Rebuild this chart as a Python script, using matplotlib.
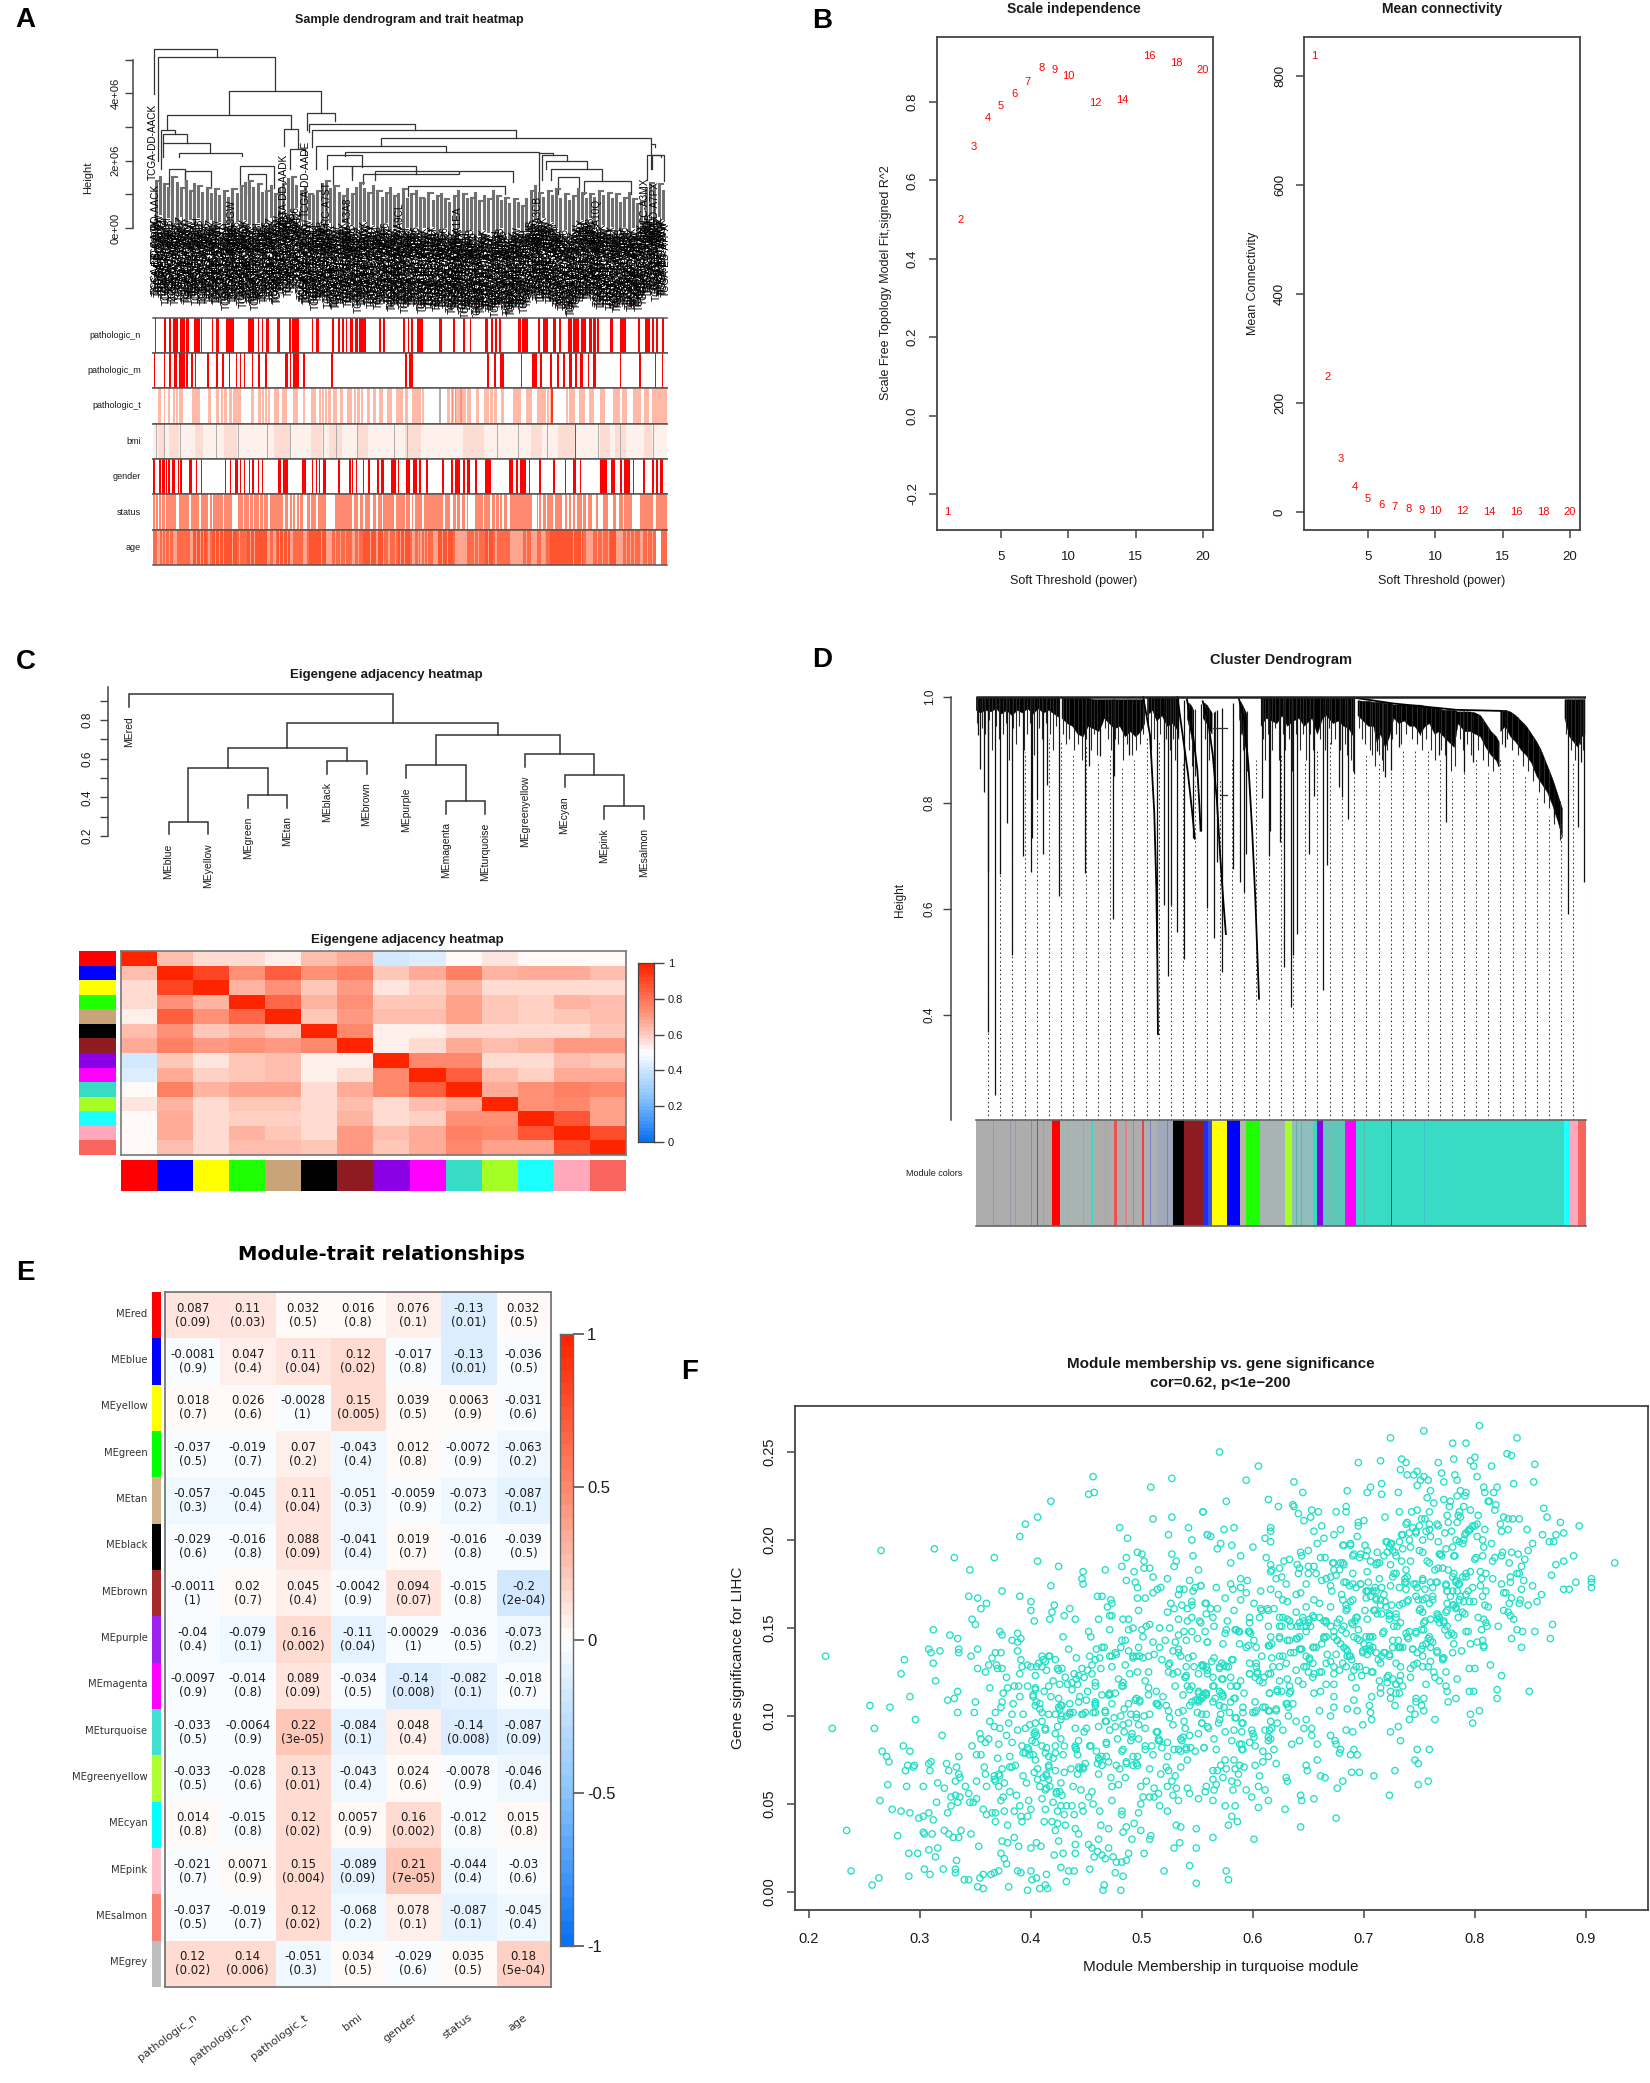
import numpy as np
import matplotlib
matplotlib.use("Agg")
import matplotlib.pyplot as plt
from matplotlib.colors import LinearSegmentedColormap

W, H = 1650, 2083
plt.rcParams["font.family"] = ["Liberation Sans", "DejaVu Sans"]

# panel A: sample tree, x is the position along the sample order, h in millions
A_MERGES = [
    (292, 411, 5.30, 3.98, 5.06), (299, 523, 5.06, 1.99, 4.06), (435, 610, 4.06, 3.36, 3.40),
    (317, 553, 3.36, 2.92, 2.95), (305, 331, 2.92, 1.76, 2.78), (310, 355, 2.78, 2.53, 2.53),
    (310, 399, 2.52, 2.10, 2.24), (340, 460, 2.24, 2.12, 2.14), (540, 565, 2.94, 2.44, 2.35),
    (550, 580, 2.35, 1.76, 2.20), (583, 637, 3.40, 2.90, 3.17), (586, 788, 3.10, 2.84, 2.92),
    (592, 981, 2.90, 2.39, 2.67), (723, 1237, 2.67, 2.42, 2.50), (600, 847, 2.42, 1.76, 2.27),
    (655, 1024, 2.27, 2.15, 2.24), (622, 687, 2.16, 1.76, 1.82), (633, 668, 1.83, 1.30, 1.42),
    (668, 790, 1.83, 1.59, 1.59), (690, 872, 1.59, 1.30, 1.65), (712, 975, 1.68, 1.42, 1.36),
    (775, 960, 1.25, 0.95, 1.00), (1024, 1052, 2.24, 1.08, 2.16), (1030, 1078, 2.16, 1.42, 1.99),
    (1038, 1115, 1.99, 1.76, 1.76), (1047, 1145, 1.76, 1.42, 1.42), (1237, 1246, 2.50, 1.76, 2.39),
    (1230, 1256, 2.16, 1.42, 2.12), (1240, 1263, 2.18, 1.76, 1.40), (320, 350, 1.76, 1.00, 1.30),
    (455, 520, 1.85, 1.10, 1.20), (470, 505, 1.60, 1.00, 1.10), (350, 400, 1.70, 1.10, 1.20),
    (1060, 1100, 1.50, 1.00, 1.10), (1110, 1200, 1.40, 1.00, 1.00),
]
A_LEAF_X = [
    295, 303, 311, 319, 327, 335, 343, 352, 360, 368, 376, 384, 392, 400, 408, 416, 425, 433, 441, 449,
    457, 465, 473, 481, 489, 498, 506, 514, 522, 530, 538, 546, 554, 562, 571, 579, 587, 595, 603, 611,
    619, 627, 635, 644, 652, 660, 668, 676, 684, 692, 700, 708, 717, 725, 733, 741, 749, 757, 765, 773,
    781, 790, 798, 806, 814, 822, 830, 838, 846, 854, 863, 871, 879, 887, 895, 903, 911, 919, 927, 936,
    944, 952, 960, 968, 976, 984, 992, 1000, 1009, 1017, 1025, 1033, 1041, 1049, 1057, 1065, 1073, 1082,
    1090, 1098, 1106, 1114, 1122, 1130, 1138, 1146, 1155, 1163, 1171, 1179, 1187, 1195, 1203, 1211, 1219,
    1228, 1236, 1244, 1252, 1260,
]
A_LEAF_TOP = [
    1.40, 1.50, 1.30, 1.20, 1.50, 1.35, 1.20, 1.40, 1.10, 1.30, 1.25, 1.05, 1.20, 1.00, 1.15, 0.95, 1.10, 0.90, 1.15, 1.00,
    1.25, 1.35, 1.40, 1.20, 1.30, 1.05, 1.10, 1.25, 1.00, 1.15, 1.30, 1.45, 1.50, 1.25, 1.10, 1.20, 1.00, 0.95, 1.10, 1.30,
    1.40, 1.15, 1.25, 1.05, 0.95, 1.15, 1.00, 1.20, 1.35, 1.15, 1.05, 1.25, 1.10, 0.90, 1.05, 1.20, 0.95, 1.00, 1.15, 0.85,
    1.00, 1.10, 0.90, 0.85, 1.05, 0.80, 0.95, 1.00, 0.85, 0.75, 0.95, 1.10, 1.00, 0.85, 0.90, 1.05, 0.80, 0.95, 0.85, 1.10,
    0.95, 0.80, 0.90, 0.70, 0.85, 0.75, 0.65, 0.85, 1.10, 1.25, 1.05, 0.90, 1.10, 0.95, 1.15, 0.85, 1.00, 0.80, 0.95, 1.15,
    1.05, 0.85, 1.00, 0.90, 1.10, 0.95, 1.05, 0.85, 1.00, 0.75, 0.90, 1.05, 0.85, 0.70, 0.80, 1.20, 1.35, 1.25, 1.30, 1.10,
]
A_LEAF_BOT = [
    0.30, 0.45, 0.15, 0.35, 0.05, 0.25, 0.40, 0.10, 0.30, 0.15, 0.35, 0.05, 0.20, 0.30, 0.10, 0.25, 0.00, 0.20, 0.10, 0.25,
    0.05, 0.30, 0.15, 0.00, 0.20, 0.10, 0.25, 0.35, 0.10, 0.40, 0.60, 0.30, 0.50, 0.65, 0.25, 0.10, 0.30, 0.00, 0.15, 0.25,
    0.05, 0.20, -0.05, 0.10, 0.20, 0.00, 0.15, -0.10, 0.10, 0.25, 0.00, 0.15, -0.05, 0.10, 0.20, -0.05, 0.05, 0.15, -0.10, 0.05,
    0.00, 0.10, -0.10, 0.05, -0.05, 0.10, -0.10, -0.05, 0.05, -0.15, -0.05, 0.05, -0.25, -0.10, 0.00, -0.30, -0.15, 0.00, -0.10, -0.20,
    -0.05, 0.05, -0.15, -0.20, -0.05, 0.05, -0.10, 0.00, 0.25, 0.30, 0.20, 0.35, 0.15, 0.25, 0.05, -0.10, 0.00, -0.20, -0.05, 0.15,
    0.30, 0.20, 0.35, 0.10, 0.00, 0.15, -0.05, 0.10, -0.15, 0.00, 0.10, -0.05, 0.05, -0.10, 0.15, 0.30, 0.45, 0.25, 0.40, 0.30,
]
A_SAMPLE_IDS = ["TCGA-DD-AACK", "TCGA-BC-A10W", "TCGA-ED-A7PX", "TCGA-G3-A3CH", "TCGA-CC-A3MB", "TCGA-2Y-A9H6", "TCGA-ZP-A9CZ"]
A_TALL_LABELS = [
    (290, 3.70, "TCGA-DD-AACK"), (296, 1.30, "TCGA-DD-AACK"), (538, 2.20, "TCGA-DD-AADK"), (580, 2.60, "TCGA-DD-AADE"),
    (1225, 1.50, "TCGA-CC-A3MX"), (1245, 1.40, "TCGA-ED-A7PX"), (1023, 0.95, "TCGA-G3-A3CB"), (1135, 0.85, "TCGA-BC-A10Q"),
    (760, 0.75, "TCGA-ZP-A9CL"), (870, 0.65, "TCGA-DD-A1EA"), (660, 0.90, "TCGA-DD-A3A8"), (620, 1.40, "TCGA-RC-A7ST"),
    (440, 0.85, "TCGA-2Y-A9GW"),
]

A_TRAITS = ["pathologic_n", "pathologic_m", "pathologic_t", "bmi", "gender", "status", "age"]
A_N_RUNS = [
    (293, 296), (310, 315), (320, 325), (329, 338), (342, 350), (353, 358), (368, 380), (382, 384), (402, 405), (409, 416),
    (428, 432), (433, 445), (470, 482), (489, 492), (497, 500), (505, 510), (526, 532), (548, 553), (555, 568), (592, 595),
    (600, 606), (630, 634), (642, 646), (650, 654), (658, 660), (664, 670), (675, 680), (682, 695), (720, 723), (727, 731),
    (765, 770), (775, 778), (780, 785), (793, 803), (835, 840), (860, 864), (880, 884), (893, 896), (922, 927), (933, 937),
    (940, 944), (948, 952), (985, 990), (992, 1004), (1023, 1027), (1033, 1041), (1052, 1056), (1063, 1066), (1080, 1087),
    (1090, 1100), (1104, 1113), (1120, 1125), (1127, 1132), (1135, 1139), (1160, 1165), (1178, 1190), (1213, 1216),
    (1226, 1236), (1240, 1243), (1247, 1251), (1258, 1262),
]
A_M_RUNS = [
    (292, 294), (310, 313), (320, 325), (330, 336), (340, 350), (352, 356), (362, 366), (370, 372), (393, 396), (410, 413),
    (422, 425), (434, 437), (447, 450), (455, 458), (463, 466), (478, 481), (490, 494), (503, 507), (542, 546), (550, 552),
    (556, 567), (575, 579), (629, 632), (770, 773), (778, 785), (925, 930), (938, 942), (951, 957), (990, 993), (1011, 1021),
    (1027, 1030), (1045, 1050), (1058, 1062), (1070, 1074), (1082, 1087), (1093, 1097), (1103, 1108), (1118, 1120),
    (1128, 1132), (1178, 1180), (1214, 1218), (1245, 1248), (1258, 1260),
]
A_T_RUNS = [
    (300, 305), (310, 312), (318, 322), (328, 348), (365, 380), (395, 400), (410, 415), (420, 430), (435, 458), (476, 482),
    (490, 512), (520, 530), (535, 545), (556, 566), (575, 580), (590, 600), (605, 628), (632, 640), (645, 652), (660, 668),
    (672, 690), (697, 702), (708, 714), (720, 728), (735, 745), (752, 765), (770, 776), (782, 806), (850, 885), (888, 895),
    (905, 910), (920, 945), (952, 958), (975, 990), (1000, 1012), (1020, 1048), (1075, 1080), (1082, 1092), (1100, 1112),
    (1120, 1130), (1140, 1150), (1165, 1178), (1183, 1192), (1203, 1218), (1224, 1234), (1240, 1268),
]
A_T_GAPS = [
    (332, 333), (338, 339), (343, 344), (424, 425), (441, 442), (447, 448), (453, 454), (496, 497), (502, 503), (507, 508),
    (610, 611), (616, 617), (622, 623), (677, 678), (684, 685), (788, 789), (794, 795), (800, 801), (856, 857), (863, 864),
    (872, 873), (930, 931), (937, 938), (1026, 1027), (1032, 1033), (1038, 1039), (1044, 1045), (1250, 1251), (1256, 1257),
    (1262, 1263),
]
A_T_DARK = [(858, 860), (865, 867), (875, 877)]
A_T_RED = [(1048, 1051)]
A_T_GREY = [(835, 838)]
A_BMI_BANDS = [
    (300, 310), (320, 340), (370, 385), (425, 450), (520, 550), (590, 612), (625, 650), (680, 700), (770, 800), (880, 920),
    (1010, 1030), (1060, 1092), (1140, 1160), (1170, 1190), (1225, 1240),
]
A_BMI_GREY = [
    (295, 297), (311, 313), (341, 343), (409, 411), (451, 453), (506, 508), (551, 553), (614, 616), (639, 641), (679, 681),
    (749, 751), (774, 776), (944, 946), (984, 986), (1039, 1041), (1137, 1139), (1179, 1181), (1242, 1244),
]
A_BMI_DARK = [(1093, 1095)]
A_GENDER_RUNS = [
    (290, 294), (302, 305), (308, 312), (315, 317), (318, 322), (326, 331), (337, 340), (342, 345), (358, 365), (371, 374),
    (381, 384), (427, 429), (437, 439), (446, 451), (456, 458), (463, 465), (472, 474), (479, 483), (489, 492), (498, 500),
    (528, 533), (537, 546), (558, 559), (574, 581), (592, 595), (600, 602), (605, 608), (613, 620), (642, 645), (662, 666),
    (669, 671), (677, 679), (689, 692), (699, 703), (717, 720), (724, 729), (742, 753), (757, 759), (771, 779), (785, 793),
    (796, 799), (809, 813), (840, 844), (857, 861), (864, 874), (880, 883), (888, 893), (902, 906), (921, 934), (967, 975),
    (980, 985), (989, 999), (1006, 1008), (1025, 1028), (1052, 1055), (1073, 1076), (1089, 1094), (1102, 1104), (1140, 1153),
    (1161, 1170), (1179, 1182), (1187, 1197), (1203, 1206), (1223, 1227), (1239, 1244), (1248, 1251), (1255, 1260),
]
A_STATUS_GAPS = [
    (293, 295), (299, 301), (306, 308), (312, 315), (322, 323), (328, 329), (334, 339), (358, 362), (377, 381), (394, 399),
    (403, 404), (409, 410), (417, 418), (423, 426), (432, 433), (441, 451), (455, 456), (462, 464), (472, 475), (480, 483),
    (491, 493), (499, 501), (508, 512), (537, 541), (546, 550), (554, 557), (561, 564), (567, 570), (576, 583), (589, 591),
    (600, 603), (619, 636), (669, 672), (680, 683), (690, 694), (703, 709), (715, 718), (726, 728), (748, 753), (770, 772),
    (779, 782), (785, 788), (792, 793), (801, 806), (842, 845), (856, 860), (866, 869), (874, 877), (883, 887), (890, 902),
    (917, 920), (932, 935), (940, 942), (949, 950), (955, 958), (963, 969), (1011, 1020), (1022, 1025), (1028, 1032),
    (1037, 1040), (1052, 1055), (1068, 1073), (1078, 1082), (1085, 1089), (1093, 1096), (1107, 1109), (1114, 1118),
    (1126, 1132), (1137, 1146), (1156, 1166), (1171, 1176), (1184, 1187), (1202, 1216), (1241, 1247),
]
A_AGE_DARK = [
    (367, 393), (402, 450), (469, 507), (526, 551), (586, 620), (690, 728), (757, 779), (833, 861), (921, 937), (1045, 1108),
    (1159, 1171),
]
A_AGE_LIGHT = [
    (298, 304), (320, 323), (329, 336), (361, 366), (394, 399), (453, 456), (507, 513), (519, 524), (551, 557), (576, 583),
    (620, 630), (668, 674), (715, 719), (750, 753), (782, 788), (798, 801), (822, 833), (864, 887), (940, 944), (969, 994),
    (1010, 1020), (1029, 1035), (1114, 1127), (1171, 1184), (1216, 1222),
    (308, 309), (313, 314), (343, 344), (350, 351), (372, 373), (380, 381), (386, 387), (408, 409), (416, 417), (424, 425),
    (432, 433), (441, 442), (475, 476), (483, 484), (491, 492), (499, 500), (530, 531), (538, 539), (545, 546), (592, 593),
    (600, 601), (610, 611), (636, 638), (645, 647), (655, 657), (680, 682), (695, 696), (703, 704), (712, 713), (728, 730),
    (738, 740), (760, 761), (768, 769), (795, 796), (805, 807), (812, 814), (840, 841), (850, 851), (900, 902), (908, 910),
    (928, 929), (1000, 1002), (1045, 1046), (1060, 1061), (1075, 1076), (1090, 1091), (1105, 1106), (1135, 1137), (1145, 1147),
    (1155, 1157), (1190, 1192), (1198, 1200), (1206, 1208), (1230, 1232), (1240, 1242),
]
A_AGE_WHITE = [(1247, 1257)]
A_AGE_GREY = [(1035, 1038)]

# panel B
POWERS = [1, 2, 3, 4, 5, 6, 7, 8, 9, 10, 12, 14, 16, 18, 20]
SFT_R2 = [-0.247, 0.50, 0.685, 0.76, 0.79, 0.82, 0.85, 0.886, 0.883, 0.867, 0.797, 0.804, 0.918, 0.90, 0.882]
MEAN_K = [836, 248, 98, 46, 24, 13, 9, 5, 3.5, 2, 1, 0.7, 0.5, 0.4, 0.3]

# panel C
ME_NAMES = ["MEred", "MEblue", "MEyellow", "MEgreen", "MEtan", "MEblack", "MEbrown", "MEpurple", "MEmagenta",
            "MEturquoise", "MEgreenyellow", "MEcyan", "MEpink", "MEsalmon"]
ME_COLORS_C = ["#FF0000", "#0000FF", "#FFFF00", "#1EFF00", "#C8A478", "#000000", "#8E1B22", "#8B00E5", "#FF00FF",
               "#38DCC4", "#A5FF24", "#1CFFFF", "#FFA8BC", "#F8655E"]
# R style merge table, leaves are 0-13, inner nodes count on from 14
C_MERGES = [
    (1, 2, 0.275), (3, 4, 0.413), (14, 15, 0.553), (5, 6, 0.59), (16, 17, 0.656), (8, 9, 0.383), (7, 19, 0.565),
    (12, 13, 0.354), (11, 21, 0.518), (10, 22, 0.622), (20, 23, 0.72), (18, 24, 0.784), (0, 25, 0.934),
]
ADJ = [
    [1.00, .62, .57, .57, .53, .62, .67, .40, .42, .50, .54, .50, .50, .50],
    [.62, 1.00, .90, .72, .85, .72, .76, .60, .67, .76, .64, .66, .66, .62],
    [.57, .90, 1.00, .65, .72, .60, .70, .54, .59, .65, .56, .56, .56, .56],
    [.57, .72, .65, 1.00, .83, .65, .72, .60, .60, .68, .61, .59, .64, .62],
    [.53, .85, .72, .83, 1.00, .60, .70, .62, .62, .68, .61, .59, .60, .62],
    [.62, .72, .60, .65, .60, 1.00, .74, .52, .52, .57, .57, .57, .57, .60],
    [.67, .76, .70, .72, .70, .74, 1.00, .52, .57, .67, .63, .64, .71, .71],
    [.40, .60, .54, .60, .62, .52, .52, 1.00, .75, .74, .57, .57, .62, .60],
    [.42, .67, .59, .60, .62, .52, .57, .75, 1.00, .85, .63, .59, .67, .66],
    [.50, .76, .65, .68, .68, .57, .67, .74, .85, 1.00, .67, .73, .76, .75],
    [.54, .64, .56, .61, .61, .57, .63, .57, .63, .67, 1.00, .72, .75, .69],
    [.50, .66, .56, .59, .59, .57, .64, .57, .59, .73, .72, 1.00, .86, .68],
    [.50, .66, .56, .64, .60, .57, .71, .62, .67, .76, .75, .86, 1.00, .88],
    [.50, .62, .56, .62, .62, .60, .71, .60, .66, .75, .69, .68, .88, 1.00],
]

# panel D: x is the position along the gene order, heights as on the axis
D_MASS = [
    [(287, 1.0, .975), (295, 1.0, .970), (305, 1.0, .975), (315, 1.0, .972), (325, 1.0, .978), (335, 1.0, .968), (345, 1.0, .975),
     (355, 1.0, .965), (365, 1.0, .975), (375, 1.0, .970), (385, 1.0, .978), (395, 1.0, .968), (405, 1.0, .978), (415, 1.0, .970),
     (425, 1.0, .975), (435, 1.0, .968), (444, 1.0, .962)],
    [(450, .998, .960), (460, .998, .950), (470, .998, .945), (480, .998, .930), (490, .998, .925), (500, .998, .945), (510, .995, .940),
     (520, .995, .935), (527, .995, .950), (530, .995, .960), (540, .995, .950), (550, .995, .940), (560, .995, .945), (570, .995, .925),
     (580, .995, .935), (590, .995, .925), (600, .995, .935), (607, .995, .950)],
    [(612, 1.0, .965), (622, 1.0, .975), (630, 1.0, .955), (640, 1.0, .965), (650, 1.0, .945), (660, 1.0, .950), (668, 1.0, .940), (672, 1.0, .920)],
    [(688, .990, .960), (695, .985, .930), (700, .975, .900)],
    [(718, .990, .960), (725, .985, .950), (735, .970, .930)],
    [(787, .993, .960), (793, .985, .930), (800, .970, .900)],
    [(828, 1.0, .945), (838, 1.0, .960), (848, 1.0, .955), (858, 1.0, .950), (868, 1.0, .965), (878, 1.0, .945), (890, 1.0, .955),
     (900, 1.0, .960), (910, 1.0, .945), (925, 1.0, .960), (935, 1.0, .930), (945, 1.0, .960), (952, .998, .965), (965, .998, .950),
     (975, .998, .955), (985, .998, .945), (995, .998, .940), (1004, .998, .925)],
    [(1012, .993, .965), (1022, .992, .955), (1032, .992, .945), (1042, .990, .945), (1048, .990, .915), (1055, .990, .930), (1064, .988, .905),
     (1072, .988, .925), (1080, .985, .960), (1090, .985, .950), (1100, .985, .955), (1110, .985, .945), (1120, .985, .945), (1130, .985, .930),
     (1140, .982, .945), (1148, .980, .950), (1158, .980, .930), (1166, .978, .935), (1175, .975, .925), (1185, .975, .915), (1195, .975, .905),
     (1202, .972, .950), (1215, .972, .935), (1225, .972, .935), (1235, .970, .930), (1245, .965, .925), (1255, .950, .905), (1265, .935, .890),
     (1275, .925, .880), (1280, .915, .868)],
    [(1283, .975, .935), (1292, .975, .945), (1302, .972, .925), (1312, .965, .915), (1322, .955, .900), (1332, .945, .890), (1342, .930, .875),
     (1352, .915, .850), (1362, .895, .835), (1372, .870, .820), (1382, .845, .795), (1392, .815, .765), (1400, .790, .735)],
    [(1405, .995, .960), (1414, .995, .925), (1422, .995, .915), (1430, .995, .905), (1437, .995, .925), (1443, .995, .930)],
]
D_TIP_X = [310, 323, 311, 333, 356, 302, 296, 292, 347, 376, 392, 393, 415, 404, 445, 422, 494, 503, 547, 550, 578, 523, 631, 645, 652,
           657, 669, 682, 700, 714, 726, 739, 745, 754, 775, 788, 797, 800, 830, 843, 846, 864, 873, 885, 890, 897, 920, 930, 946, 955,
           977, 983, 994, 1005, 1049, 1064, 1075, 1090, 1130, 1166, 1180, 1214, 1232, 1278, 1292, 1327, 1358, 1385, 1412, 1430, 1436, 1442]
D_TIP_H = [.368, .248, .67, .665, .512, .82, .864, .927, .762, .70, .67, .734, .703, .806, .623, .833, .667, .869, .581, .851, .89, .887, .518, .606, .473,
           .606, .556, .505, .734, .747, .601, .545, .687, .48, .674, .65, .631, .703, .808, .70, .747, .725, .489, .415, .512, .552, .703, .813, .446, .682,
           .83, .81, .77, .855, .898, .849, .862, .905, .927, .89, .763, .858, .876, .869, .905, .894, .847, .772, .59, .754, .876, .651]
D_SHORT_TIPS = [
    (290, .95), (298, .94), (304, .93), (312, .955), (318, .90), (326, .945), (331, .92), (338, .93), (344, .95), (350, .88), (358, .94), (364, .91),
    (370, .945), (378, .90), (384, .93), (390, .95), (398, .89), (407, .94), (412, .92), (420, .95), (428, .93), (434, .90), (440, .945), (452, .93),
    (458, .91), (465, .92), (474, .90), (482, .91), (488, .88), (496, .92), (506, .90), (512, .93), (518, .89), (532, .94), (538, .92), (544, .90),
    (552, .92), (558, .91), (566, .88), (574, .91), (584, .89), (592, .90), (598, .91), (604, .93), (615, .94), (620, .90), (626, .92), (636, .93),
    (644, .90), (648, .92), (655, .90), (662, .92), (666, .88), (692, .90), (697, .87), (703, .85), (722, .92), (730, .88), (742, .84), (790, .93),
    (795, .90), (802, .86), (832, .92), (836, .88), (842, .93), (850, .90), (855, .94), (862, .88), (870, .93), (875, .90), (882, .92), (888, .86),
    (895, .93), (903, .90), (908, .93), (915, .88), (922, .93), (928, .90), (940, .92), (950, .90), (958, .94), (962, .91), (970, .92), (978, .90),
    (988, .91), (992, .89), (1000, .88), (1003, .86), (1015, .94), (1020, .92), (1027, .91), (1035, .90), (1040, .89), (1046, .87), (1052, .89),
    (1058, .88), (1061, .86), (1068, .90), (1078, .92), (1085, .93), (1095, .91), (1105, .93), (1115, .92), (1125, .91), (1135, .90), (1143, .92),
    (1152, .90), (1160, .88), (1170, .90), (1178, .89), (1190, .86), (1198, .87), (1206, .92), (1212, .90), (1220, .91), (1228, .89), (1240, .90),
    (1250, .88), (1260, .87), (1270, .86), (1286, .91), (1296, .92), (1306, .90), (1316, .89), (1326, .87), (1336, .86), (1346, .84), (1356, .82),
    (1366, .80), (1376, .79), (1386, .76), (1396, .73), (1408, .93), (1418, .90), (1426, .88), (1434, .91), (1440, .90),
]
D_CURVES = [
    ([787, 797, 805, 812, 818, 822, 825], [.995, .955, .869, .746, .617, .509, .43]),
    ([718, 728, 737, 745, 751, 757, 762], [.991, .955, .891, .804, .703, .617, .552]),
    ([605, 618, 626, 630, 632, 633], [.999, .927, .782, .638, .494, .363]),
    ([670, 680, 690, 698, 703], [.999, .927, .855, .782, .732]),
    ([688, 700, 708, 712, 714], [.995, .925, .860, .790, .747]),
    ([1005, 1080, 1150, 1200, 1285], [.998, .987, .980, .975, .973]),
]
D_CROSS = [(737, 765, .94), (750, 765, .815)]
D_GUIDE_X = [310, 333, 356, 380, 403, 426, 449, 472, 496, 519, 542, 565, 588, 612, 635, 658, 681, 704, 727, 751, 774, 797, 820, 843, 866, 890, 913,
             936, 959, 982, 1006, 1029, 1052, 1075, 1098, 1121, 1145, 1168, 1191, 1214, 1237, 1260, 1283, 1307, 1330, 1353, 1376, 1399, 1422, 1445]
D_MODULES = [
    (287, 432, "#ADADAD"), (432, 447, "#FF0000"), (447, 505, "#A8B4B2"), (505, 510, "#38DCC4"), (510, 550, "#ADADAD"), (550, 554, "#F05050"),
    (554, 570, "#ADADAD"), (570, 573, "#E88080"), (573, 603, "#ADADAD"), (603, 606, "#F04040"), (606, 630, "#ABB0B0"), (630, 662, "#A0A8BC"),
    (662, 683, "#000000"), (683, 718, "#8E1B22"), (718, 727, "#2030F0"), (727, 736, "#4050E0"), (736, 764, "#FFFF00"), (764, 788, "#0000FF"),
    (788, 800, "#B8B8A0"), (800, 826, "#1EFF00"), (826, 875, "#A8B4B4"), (875, 888, "#A5FF24"), (888, 927, "#90BEBA"), (927, 934, "#38DCC4"),
    (934, 946, "#8B00E5"), (946, 988, "#5CC8BA"), (988, 1009, "#FF00FF"), (1009, 1075, "#38DCC4"), (1075, 1078, "#8B00E5"),
    (1078, 1405, "#38DCC4"), (1405, 1415, "#1CFFFF"), (1415, 1430, "#FFA8BC"), (1430, 1445, "#F8655E"),
]
D_THIN_LINES = [
    (320, "#9A9A9A"), (345, "#A090B0"), (352, "#A090B0"), (362, "#B090B0"), (372, "#A090B8"), (385, "#9090B0"), (392, "#A080A8"), (403, "#6A6A6A"),
    (415, "#80B0A8"), (460, "#80C0B8"), (478, "#C09090"), (490, "#80B8B0"), (532, "#80B8B0"), (585, "#C08080"), (618, "#8080D0"), (640, "#8080E0"),
    (650, "#6090C0"), (895, "#60B0A8"), (905, "#40C8B0"), (915, "#6080D0"), (960, "#80B8B0"), (1024, "#60B8A8"), (1130, "#40B8D0"), (1138, "#40C0C8"),
]

# panel E
E_MODULES = ME_NAMES + ["MEgrey"]
E_COLORS = ["#FF0000", "#0000FF", "#FFFF00", "#00FF00", "#D2B48C", "#000000", "#A52A2A", "#A020F0", "#FF00FF",
            "#40E0D0", "#ADFF2F", "#00FFFF", "#FFC0CB", "#FA8072", "#BEBEBE"]
E_COR = [
    ["0.087", "0.11", "0.032", "0.016", "0.076", "-0.13", "0.032"],
    ["-0.0081", "0.047", "0.11", "0.12", "-0.017", "-0.13", "-0.036"],
    ["0.018", "0.026", "-0.0028", "0.15", "0.039", "0.0063", "-0.031"],
    ["-0.037", "-0.019", "0.07", "-0.043", "0.012", "-0.0072", "-0.063"],
    ["-0.057", "-0.045", "0.11", "-0.051", "-0.0059", "-0.073", "-0.087"],
    ["-0.029", "-0.016", "0.088", "-0.041", "0.019", "-0.016", "-0.039"],
    ["-0.0011", "0.02", "0.045", "-0.0042", "0.094", "-0.015", "-0.2"],
    ["-0.04", "-0.079", "0.16", "-0.11", "-0.00029", "-0.036", "-0.073"],
    ["-0.0097", "-0.014", "0.089", "-0.034", "-0.14", "-0.082", "-0.018"],
    ["-0.033", "-0.0064", "0.22", "-0.084", "0.048", "-0.14", "-0.087"],
    ["-0.033", "-0.028", "0.13", "-0.043", "0.024", "-0.0078", "-0.046"],
    ["0.014", "-0.015", "0.12", "0.0057", "0.16", "-0.012", "0.015"],
    ["-0.021", "0.0071", "0.15", "-0.089", "0.21", "-0.044", "-0.03"],
    ["-0.037", "-0.019", "0.12", "-0.068", "0.078", "-0.087", "-0.045"],
    ["0.12", "0.14", "-0.051", "0.034", "-0.029", "0.035", "0.18"],
]
E_P = [
    ["0.09", "0.03", "0.5", "0.8", "0.1", "0.01", "0.5"],
    ["0.9", "0.4", "0.04", "0.02", "0.8", "0.01", "0.5"],
    ["0.7", "0.6", "1", "0.005", "0.5", "0.9", "0.6"],
    ["0.5", "0.7", "0.2", "0.4", "0.8", "0.9", "0.2"],
    ["0.3", "0.4", "0.04", "0.3", "0.9", "0.2", "0.1"],
    ["0.6", "0.8", "0.09", "0.4", "0.7", "0.8", "0.5"],
    ["1", "0.7", "0.4", "0.9", "0.07", "0.8", "2e-04"],
    ["0.4", "0.1", "0.002", "0.04", "1", "0.5", "0.2"],
    ["0.9", "0.8", "0.09", "0.5", "0.008", "0.1", "0.7"],
    ["0.5", "0.9", "3e-05", "0.1", "0.4", "0.008", "0.09"],
    ["0.5", "0.6", "0.01", "0.4", "0.6", "0.9", "0.4"],
    ["0.8", "0.8", "0.02", "0.9", "0.002", "0.8", "0.8"],
    ["0.7", "0.9", "0.004", "0.09", "7e-05", "0.4", "0.6"],
    ["0.5", "0.7", "0.02", "0.2", "0.1", "0.1", "0.4"],
    ["0.02", "0.006", "0.3", "0.5", "0.6", "0.5", "5e-04"],
]

# panel F: (module membership, gene significance), both times 1000
F_POINTS = [
    (215, 134), (221, 93), (265, 194), (313, 195), (331, 190), (367, 190), (345, 183), (406, 188), (456, 236), (457, 227), (452, 226), (418, 222),
    (406, 213), (395, 209), (390, 202), (508, 230), (527, 235), (510, 212), (527, 213), (480, 207), (487, 201), (524, 203), (542, 207), (555, 216),
    (559, 203), (545, 200), (546, 191), (496, 193), (500, 192), (486, 190), (502, 188), (482, 185), (502, 184), (507, 184), (493, 182), (510, 179),
    (527, 192), (531, 188), (529, 185), (523, 178), (551, 183), (425, 185), (467, 183), (447, 182), (446, 178), (447, 175), (418, 174), (374, 171),
    (390, 168), (344, 168), (352, 167), (360, 164), (355, 161), (400, 165), (400, 160), (403, 154), (421, 163), (419, 159), (417, 155), (430, 157),
    (435, 161), (440, 155), (347, 155), (350, 152), (312, 149), (327, 146), (334, 144), (308, 138), (310, 136), (318, 137), (335, 138), (335, 136),
    (346, 134), (352, 138), (286, 132), (312, 130), (283, 124), (314, 120), (291, 111), (255, 106), (273, 105), (259, 93), (296, 98), (325, 109),
    (331, 110), (334, 114), (334, 102), (350, 108), (349, 102), (320, 89), (266, 80), (270, 77), (272, 74), (285, 83), (291, 80), (287, 69),
    (289, 72), (295, 72), (294, 71), (271, 61), (288, 60), (303, 60), (308, 73), (310, 74), (309, 69), (316, 62), (322, 59), (324, 73),
    (326, 69), (333, 71), (335, 67), (336, 65), (332, 63), (335, 77), (264, 52), (275, 47), (283, 46), (291, 45), (299, 42), (303, 43),
    (308, 45), (312, 41), (315, 51), (325, 45), (328, 49), (328, 54), (332, 55), (336, 54), (334, 51), (341, 60), (344, 56), (351, 53),
    (345, 51), (348, 51), (234, 35), (238, 12), (257, 4), (263, 8), (280, 32), (290, 9), (290, 22), (298, 22), (308, 24), (314, 20),
    (316, 25), (303, 34), (304, 33), (311, 33), (322, 35), (326, 33), (330, 31), (335, 31), (337, 35), (346, 33), (353, 26), (333, 18),
    (304, 13), (309, 10), (321, 13), (332, 13), (332, 11), (340, 7), (344, 7), (354, 8), (357, 10), (364, 10), (367, 11), (371, 12),
    (352, 3), (357, 2), (380, 3), (397, 1), (401, 7), (405, 8), (408, 2), (413, 4), (415, 2), (432, 6), (434, 12), (439, 12),
    (427, 14), (414, 10), (400, 12), (388, 12), (391, 11), (453, 13), (476, 11), (483, 9), (466, 4), (465, 1), (481, 1), (520, 12),
    (543, 15), (549, 5), (549, 25), (529, 25), (534, 28), (549, 36), (531, 38), (535, 37), (502, 22), (488, 22), (491, 30), (499, 35),
    (507, 30), (508, 32), (493, 39), (486, 37), (483, 34), (497, 45), (482, 46), (482, 44), (523, 46), (516, 49), (499, 50), (501, 54),
    (507, 54), (511, 54), (515, 56), (511, 59), (499, 60), (504, 63), (551, 53), (543, 56), (541, 59), (533, 52), (528, 55), (531, 59),
    (523, 60), (527, 63), (530, 66), (522, 71), (524, 69), (517, 67), (535, 71), (541, 75), (556, 82), (548, 80), (544, 82), (540, 81),
    (535, 80), (529, 81), (523, 77), (523, 85), (518, 82), (509, 83), (516, 86), (514, 91), (535, 87), (537, 88), (539, 93), (538, 97),
    (543, 89), (551, 90), (554, 96), (559, 94), (528, 95), (525, 99), (524, 103), (522, 106), (533, 102), (537, 103), (543, 106), (550, 102),
    (554, 101), (558, 112), (554, 110), (550, 109), (551, 113), (543, 115), (537, 112), (545, 108),
    (372, 148), (374, 146), (388, 147), (391, 144), (383, 143), (388, 142), (388, 137), (368, 136), (373, 136), (365, 133), (369, 129), (362, 129),
    (359, 125), (352, 127), (370, 127), (374, 127), (391, 132), (392, 128), (397, 129), (400, 128), (407, 130), (410, 134), (416, 134), (413, 131),
    (422, 132), (410, 128), (414, 126), (424, 127), (428, 127), (404, 123), (390, 124), (378, 122), (431, 122), (420, 120), (416, 117), (426, 118),
    (439, 124), (443, 123), (448, 122), (446, 127), (451, 126), (455, 124), (453, 134), (462, 133), (459, 138), (464, 139), (466, 139), (452, 148),
    (454, 145), (434, 138), (429, 145), (441, 133), (463, 127), (473, 128), (477, 135), (473, 134), (485, 129), (481, 139), (482, 143), (485, 143),
    (471, 149), (488, 137), (497, 139), (492, 134), (495, 134), (489, 124), (496, 125), (506, 125), (511, 135), (506, 134), (516, 139), (518, 132),
    (524, 129), (530, 142), (521, 143), (510, 142), (525, 150), (516, 150), (507, 152), (492, 150), (488, 149), (500, 149), (501, 145), (504, 151),
    (483, 155), (488, 155), (497, 160), (461, 155), (469, 162), (473, 164), (472, 166), (471, 157), (473, 157), (460, 168), (464, 168), (496, 167),
    (503, 167), (494, 176), (496, 173), (486, 177), (510, 170), (514, 172), (517, 173), (534, 172), (533, 169), (538, 172), (543, 177), (548, 173),
    (553, 174), (546, 171), (526, 164), (523, 159), (529, 161), (533, 155), (536, 163), (541, 161), (545, 165), (545, 163), (541, 154), (545, 156),
    (553, 153), (557, 164), (558, 158), (533, 146), (538, 148), (540, 143), (545, 148), (550, 144), (557, 148), (559, 142), (528, 137), (533, 138),
    (535, 134), (542, 133), (546, 134), (540, 128), (547, 128), (555, 129), (551, 124), (559, 124), (524, 125), (528, 124), (532, 125), (539, 122),
    (530, 117), (541, 117), (545, 117), (551, 114), (557, 113),
    (379, 116), (385, 117), (389, 117), (397, 117), (404, 116), (363, 116), (375, 113), (390, 111), (402, 111), (412, 114), (418, 111), (425, 110),
    (433, 118), (437, 115), (442, 118), (444, 111), (451, 114), (458, 119), (458, 117), (464, 112), (471, 112), (476, 113), (479, 121), (483, 119),
    (482, 117), (503, 120), (506, 116), (513, 114), (519, 111), (506, 112), (498, 109), (494, 109), (488, 107), (484, 104), (514, 107), (443, 108),
    (450, 109), (458, 107), (473, 107), (458, 102), (456, 102), (435, 107), (427, 106), (425, 105), (408, 107), (404, 106), (384, 107), (374, 108),
    (373, 105), (368, 102), (383, 101), (393, 101), (410, 102), (416, 101), (422, 101), (427, 98), (435, 101), (438, 102), (446, 101), (449, 102),
    (467, 102), (475, 99), (481, 100), (490, 101), (495, 101), (495, 99), (502, 100), (507, 101), (363, 97), (380, 96), (399, 95), (404, 96),
    (410, 97), (424, 94), (440, 93), (450, 93), (448, 91), (461, 94), (467, 97), (471, 92), (476, 94), (483, 95), (488, 96), (484, 91),
    (491, 90), (497, 95), (503, 93), (514, 91), (354, 90), (355, 87), (362, 87), (367, 94), (372, 93), (378, 89), (388, 92), (395, 93),
    (403, 90), (413, 92), (422, 90), (427, 87), (443, 86), (478, 87), (468, 85), (454, 83), (440, 82), (490, 86), (497, 87), (503, 83),
    (515, 86), (347, 83), (351, 78), (355, 78), (359, 85), (371, 84), (383, 85), (392, 83), (397, 82), (401, 86), (404, 85), (410, 83),
    (414, 82), (422, 83), (430, 83), (442, 78), (459, 80), (461, 76), (468, 77), (482, 80), (503, 81), (492, 77), (496, 77), (510, 78),
    (370, 76), (381, 77), (395, 79), (404, 75), (402, 78), (413, 79), (416, 77), (422, 79), (429, 78), (420, 76), (381, 71), (386, 72),
    (358, 71), (359, 67), (367, 66), (371, 67), (374, 70), (393, 66), (403, 68), (406, 70), (416, 72), (422, 69), (430, 68), (436, 70),
    (442, 67), (443, 71), (449, 73), (447, 70), (460, 73), (464, 72), (461, 67), (470, 74), (477, 72), (480, 70), (486, 73), (492, 72),
    (496, 72), (507, 70), (351, 63), (360, 60), (367, 64), (371, 60), (376, 62), (396, 62), (406, 64), (414, 66), (416, 64), (408, 60),
    (413, 58), (423, 57), (427, 62), (428, 55), (438, 60), (445, 58), (455, 57), (452, 54), (456, 50), (472, 65), (473, 60), (479, 61),
    (485, 65), (381, 57), (387, 55), (375, 54), (373, 52), (398, 52), (410, 53), (420, 51), (473, 52), (432, 49), (437, 49), (446, 49),
    (447, 46), (462, 46), (427, 49), (424, 46), (413, 47), (400, 47), (390, 49), (385, 46), (376, 46), (357, 47), (360, 44), (365, 45),
    (368, 45), (391, 43), (392, 40), (397, 43), (430, 44), (439, 44), (368, 40), (379, 38), (412, 40), (419, 40), (424, 39), (431, 38),
    (422, 35), (440, 36), (443, 33), (463, 38), (470, 36), (425, 29), (374, 29), (379, 28), (385, 31), (389, 26), (400, 25), (405, 28),
    (409, 26), (421, 21), (429, 22), (440, 22), (440, 27), (452, 27), (455, 25), (460, 23), (457, 20), (464, 21), (467, 19), (470, 25),
    (474, 20), (477, 17), (482, 17), (486, 18), (373, 22), (376, 19), (378, 16), (461, 30),
    (570, 250), (605, 242), (594, 234), (576, 222), (555, 216), (637, 233), (645, 227), (614, 223), (623, 219), (636, 220), (637, 219), (641, 215),
    (646, 211), (653, 217), (659, 216), (652, 213), (675, 216), (684, 219), (684, 216), (685, 228), (695, 244), (715, 245), (724, 258), (754, 262),
    (804, 265), (780, 255), (792, 255), (838, 258), (829, 249), (833, 248), (800, 247), (796, 245), (799, 242), (781, 246), (767, 244), (734, 246),
    (738, 244), (733, 240), (739, 237), (745, 237), (748, 239), (754, 236), (751, 234), (758, 234), (748, 231), (770, 238), (772, 233), (782, 237),
    (784, 234), (802, 236), (815, 242), (854, 243), (853, 233), (835, 232), (808, 230), (820, 230), (817, 227), (809, 227), (812, 222), (813, 222),
    (819, 220), (818, 217), (706, 230), (703, 227), (716, 232), (716, 226), (731, 227), (760, 228), (757, 224), (763, 221), (772, 223), (778, 222),
    (777, 219), (784, 225), (787, 228), (792, 227), (791, 225), (732, 216), (748, 217), (743, 216), (719, 213), (700, 211), (695, 210), (695, 208),
    (752, 212), (755, 212), (759, 216), (775, 214), (776, 210), (786, 216), (785, 214), (796, 217), (790, 219), (787, 213), (784, 210), (803, 214),
    (826, 213), (830, 212), (834, 212), (840, 212), (823, 209), (830, 206), (824, 205), (847, 206), (862, 218), (865, 213), (877, 210), (894, 208),
    (880, 204), (873, 203), (861, 203), (871, 199), (867, 199), (852, 198), (848, 194), (889, 191), (880, 188), (873, 186), (869, 180), (926, 187),
    (891, 176), (885, 172), (880, 172), (905, 178), (905, 176), (905, 173), (852, 174), (860, 169), (856, 165), (848, 163), (842, 172), (844, 177),
    (832, 176), (838, 181), (842, 185), (845, 189), (839, 192), (833, 193), (831, 187), (825, 193), (824, 191), (816, 178), (824, 175), (826, 170),
    (828, 170), (833, 167), (841, 166), (840, 164), (831, 164), (826, 160), (830, 159), (832, 157), (835, 155), (821, 151), (838, 149), (843, 148),
    (854, 148), (870, 152), (868, 144), (833, 144), (842, 139), (814, 129), (824, 123), (849, 114), (820, 115), (820, 110), (804, 103), (796, 101),
    (798, 96), (795, 114), (799, 114), (795, 127), (800, 127), (784, 121), (774, 125), (774, 117), (775, 114), (783, 110), (776, 108), (764, 98),
    (759, 81), (748, 81), (746, 75), (749, 73), (758, 63), (749, 61), (728, 69), (723, 55), (709, 66), (696, 68), (689, 68), (681, 63),
    (676, 59), (675, 42), (643, 37), (655, 53), (643, 55), (644, 52), (629, 47), (614, 52), (611, 58), (605, 60), (601, 30), (564, 31),
    (576, 12), (578, 7), (578, 38), (586, 40), (581, 43), (584, 49), (575, 49), (564, 52), (599, 54), (605, 48), (594, 58), (582, 58),
    (586, 62), (581, 63), (558, 60), (557, 57), (567, 61), (565, 58), (564, 64), (573, 65), (583, 75), (575, 75), (571, 72), (564, 69),
    (568, 69), (587, 67), (584, 70), (588, 72), (592, 71), (576, 70), (602, 72), (606, 66), (614, 77), (619, 81), (609, 80), (621, 73),
    (609, 74), (630, 65), (631, 63), (648, 72), (649, 69), (661, 66), (665, 65), (658, 75), (658, 84), (670, 89), (674, 86), (675, 84),
    (679, 81), (678, 79), (688, 78), (691, 81), (694, 78), (684, 92), (690, 91), (699, 95), (724, 91), (731, 94), (733, 86), (707, 98),
    (706, 102), (705, 106), (741, 98), (746, 101), (754, 103), (752, 106), (754, 110), (747, 110), (747, 108), (742, 104), (728, 106), (732, 113),
    (729, 113), (724, 110), (724, 114), (715, 113), (715, 116), (721, 119), (729, 118), (735, 117), (733, 123), (722, 123), (733, 128), (729, 130),
    (742, 122), (742, 127), (745, 129), (748, 130), (753, 128), (758, 128), (753, 134), (756, 118), (763, 125), (764, 122), (768, 120), (771, 133),
    (766, 136), (760, 131), (752, 138), (756, 141), (748, 136), (744, 138), (733, 139), (731, 143), (723, 135), (718, 136), (713, 132), (715, 130),
    (788, 137), (794, 148), (792, 148), (780, 136), (796, 141), (802, 142), (807, 143), (808, 140), (808, 139), (781, 141), (776, 146), (773, 149),
    (772, 153), (767, 157), (766, 155), (760, 155), (755, 154), (754, 149), (758, 144), (760, 143), (747, 148), (740, 144), (741, 148), (808, 155),
    (810, 153), (811, 151), (806, 149), (803, 156), (791, 158), (789, 159), (785, 156), (775, 160), (775, 164), (781, 163), (783, 162), (790, 165),
    (795, 165), (799, 165), (809, 163), (812, 162), (807, 168), (810, 171), (805, 174), (806, 178), (805, 182), (810, 181), (798, 173), (794, 171),
    (792, 169), (787, 168), (780, 171), (775, 171), (783, 176), (785, 175), (789, 179), (792, 181), (796, 182), (781, 181), (776, 183), (771, 184),
    (767, 184), (764, 183), (759, 187), (757, 188), (815, 198), (808, 196), (802, 202), (807, 200), (809, 206), (794, 205), (796, 206), (800, 208),
    (802, 209), (791, 203), (790, 200), (789, 198), (783, 200), (780, 196), (781, 191), (774, 195), (769, 192), (767, 199), (773, 204), (779, 205),
    (767, 208), (766, 209), (759, 209), (756, 205), (750, 208), (744, 207), (747, 204), (739, 210), (738, 209), (734, 203), (741, 200), (735, 195),
    (742, 196), (750, 194), (753, 193), (753, 200), (760, 202), (742, 188), (734, 188), (724, 186), (725, 198), (721, 199), (728, 193), (723, 196),
    (721, 193), (718, 191), (712, 193), (712, 187), (706, 188), (701, 197), (703, 194), (697, 192), (691, 192), (688, 198), (682, 197), (694, 202),
    (679, 206), (673, 203), (662, 208), (655, 205), (664, 201), (658, 198), (650, 194), (643, 193), (644, 191), (633, 189), (628, 188), (616, 186),
    (617, 183), (616, 182), (624, 184), (626, 179), (630, 175), (621, 178), (616, 207), (616, 205), (611, 201), (616, 199), (600, 196), (612, 190),
    (589, 191), (581, 197), (571, 198), (568, 195), (583, 207), (574, 206), (559, 203), (562, 202), (580, 187), (640, 186), (642, 184), (641, 181),
    (650, 185), (655, 185), (657, 181), (650, 181), (661, 190), (665, 190), (673, 187), (681, 187), (682, 186), (673, 183), (670, 179), (666, 178),
    (662, 177), (675, 180), (670, 174), (671, 171), (680, 169), (682, 176), (687, 174), (690, 181), (697, 175), (693, 173), (703, 182), (704, 176),
    (714, 178), (710, 173), (703, 171), (702, 167), (711, 167), (718, 169), (724, 174), (729, 181), (738, 183), (737, 176), (747, 175), (753, 177),
    (755, 172), (766, 176), (774, 174), (784, 171), (732, 173), (738, 172), (648, 175), (643, 170), (639, 169), (627, 166), (616, 172), (623, 169),
    (607, 171), (589, 173), (595, 177), (589, 178), (580, 175), (582, 172), (567, 173), (553, 174), (575, 167), (589, 166), (594, 170), (601, 164),
    (607, 161), (613, 161), (619, 161), (624, 156), (631, 165), (639, 159), (648, 162), (655, 166), (660, 164), (670, 162), (681, 166), (688, 165),
    (684, 160), (678, 155), (692, 154), (703, 155), (710, 160), (715, 163), (723, 157), (729, 158), (739, 165), (750, 160), (753, 166), (762, 168),
    (774, 159), (666, 154), (654, 157), (645, 156), (651, 155), (643, 151), (634, 151), (627, 156), (624, 151), (614, 151), (606, 156), (597, 156),
    (597, 153), (583, 160), (564, 156), (565, 151), (577, 154), (575, 147), (558, 164), (562, 161), (568, 161), (552, 154), (573, 141), (559, 142),
    (584, 149), (588, 148), (597, 148), (596, 140), (603, 139), (588, 141), (615, 140), (624, 145), (616, 145), (631, 143), (640, 144), (648, 148),
    (657, 139), (664, 144), (673, 148), (682, 151), (676, 143), (690, 152), (694, 144), (684, 138), (705, 145), (708, 139), (705, 138), (718, 148),
    (726, 143), (732, 139), (739, 145), (565, 133), (563, 131), (554, 129), (581, 132), (572, 130), (570, 127), (576, 128), (597, 130), (603, 130),
    (608, 134), (617, 133), (624, 134), (630, 130), (634, 136), (642, 138), (651, 133), (654, 139), (667, 135), (675, 135), (688, 134), (699, 136),
    (716, 134), (723, 134), (559, 126), (572, 121), (580, 122), (597, 124), (604, 125), (610, 122), (616, 124), (609, 119), (624, 120), (631, 121),
    (641, 120), (648, 128), (639, 126), (654, 122), (662, 125), (673, 124), (684, 128), (693, 128), (698, 123), (707, 125), (689, 122), (564, 117),
    (572, 113), (585, 117), (589, 120), (592, 113), (615, 113), (622, 114), (633, 113), (645, 118), (655, 113), (661, 114), (666, 118), (673, 118),
    (673, 111), (693, 116), (707, 111), (555, 112), (566, 110), (573, 112), (583, 110), (570, 106), (580, 108), (574, 105), (602, 108), (591, 105),
    (611, 105), (602, 102), (615, 103), (621, 103), (631, 107), (636, 107), (660, 103), (670, 100), (673, 105), (685, 104), (694, 103), (691, 109),
    (558, 101), (571, 101), (579, 102), (585, 99), (591, 102), (590, 96), (569, 96), (560, 93), (554, 96), (575, 91), (583, 92), (590, 91),
    (599, 92), (601, 88), (611, 92), (617, 93), (614, 86), (635, 84), (642, 86), (646, 93), (653, 93), (653, 89), (627, 92), (632, 100),
    (639, 97), (648, 98), (622, 96), (616, 97), (565, 87), (581, 86), (588, 84), (590, 81), (597, 85), (602, 83), (556, 82), (567, 81),
    (672, 187), (679, 187), (678, 183), (684, 176), (690, 175), (697, 175), (702, 171), (706, 168), (708, 171), (716, 173), (711, 171), (726, 179),
    (727, 181), (737, 178), (739, 179), (738, 176), (745, 175), (748, 173), (753, 178), (760, 176), (765, 176), (762, 173), (774, 175), (780, 179),
    (783, 177), (786, 175), (792, 179), (704, 171), (711, 166), (715, 166), (719, 165), (720, 162), (725, 163), (732, 163), (735, 164), (740, 166),
    (747, 168), (749, 166), (751, 161), (753, 159), (756, 167), (759, 164), (762, 166), (766, 158), (768, 156), (775, 171), (778, 168), (780, 163),
    (783, 161), (786, 166), (684, 163), (685, 161), (690, 166), (693, 156), (701, 160), (709, 160), (712, 158), (716, 158), (723, 158), (729, 156),
    (642, 153), (646, 154), (650, 153), (655, 156), (660, 156), (664, 154), (666, 153), (670, 151), (676, 153), (680, 149), (684, 147), (689, 153),
    (694, 156), (695, 149), (691, 145), (696, 143), (702, 145), (706, 145), (708, 145), (717, 147), (723, 155), (727, 151), (730, 151), (733, 153),
    (738, 147), (747, 147), (752, 149), (754, 153), (759, 145), (762, 142), (768, 153), (772, 154), (775, 151), (779, 147), (781, 146), (666, 145),
    (673, 145), (676, 143), (679, 141), (682, 139), (685, 137), (687, 134), (689, 132), (700, 141), (702, 138), (705, 140), (706, 137), (703, 135),
    (699, 137), (711, 136), (719, 136), (726, 139), (731, 139), (735, 139), (744, 138), (753, 140), (760, 139), (766, 137), (772, 133), (771, 132),
    (644, 138), (648, 134), (651, 132), (654, 130), (646, 128), (650, 125), (655, 124), (660, 125), (666, 130), (670, 131), (673, 128), (678, 126),
    (681, 130), (685, 134), (691, 126), (696, 128), (702, 126), (708, 125), (714, 120), (721, 122), (726, 121), (729, 118), (732, 120), (570, 128),
    (574, 129), (578, 128), (582, 132), (564, 122), (573, 121), (580, 117), (586, 117), (565, 117), (570, 114), (573, 111), (558, 113), (552, 109),
    (564, 108), (584, 110), (603, 128), (606, 120), (597, 124), (602, 122), (604, 124), (614, 124), (624, 128), (618, 128), (627, 134), (637, 136),
    (643, 138), (655, 139), (662, 141), (664, 145), (608, 160), (614, 160), (626, 151), (631, 155), (633, 154), (640, 151), (648, 151), (652, 151),
    (596, 148), (598, 147), (585, 149), (587, 148), (594, 139), (601, 143), (614, 140), (617, 141), (624, 144), (633, 143), (639, 144), (642, 145),
    (576, 149), (615, 113), (622, 115), (626, 114), (633, 117), (634, 114), (630, 107), (632, 105), (621, 104), (614, 103), (609, 105), (600, 102),
    (603, 103), (584, 99), (591, 96), (570, 98), (615, 92), (616, 87), (614, 88), (600, 90), (590, 84), (591, 81), (768, 192), (770, 191),
    (782, 191), (792, 204), (795, 206), (798, 208), (786, 199), (801, 190), (800, 189), (807, 191), (818, 190), (816, 188), (832, 179), (840, 181),
    (732, 199), (735, 203), (720, 199), (724, 198), (747, 205), (741, 204), (759, 206), (702, 191), (696, 190), (714, 187), (711, 186), (726, 194),
    (729, 191), (690, 191), (681, 197), (688, 197),
    (405, 128), (411, 132), (417, 134), (425, 126), (437, 119), (441, 121), (455, 129), (458, 132), (471, 134), (476, 136), (492, 133), (498, 134),
    (501, 133), (525, 130), (533, 136), (539, 122), (540, 123), (555, 128), (558, 128), (551, 108), (555, 111), (548, 109), (513, 107), (515, 106),
    (495, 110), (498, 108), (471, 113), (470, 112), (458, 108), (458, 106), (447, 101), (432, 100), (428, 100), (435, 102), (428, 106), (426, 104),
    (408, 104), (405, 108), (402, 112), (404, 115), (483, 117), (467, 103), (468, 97), (491, 88), (513, 91), (515, 87), (536, 86), (533, 81),
    (540, 82), (404, 91), (405, 89), (413, 93), (393, 79), (398, 81), (399, 78), (441, 81), (440, 83), (453, 83), (468, 84), (483, 81),
    (464, 77), (462, 75), (486, 74), (495, 73), (416, 71), (414, 67), (411, 65), (417, 60), (423, 56), (426, 57), (414, 59), (372, 66),
    (368, 63), (383, 71), (447, 71), (444, 70),
]
module_membership = np.array([p[0] for p in F_POINTS]) / 1000
gene_significance = np.array([p[1] for p in F_POINTS]) / 1000

LINE = "#444444"
TEXT = "#1a1a1a"
fig = plt.figure(figsize=(W / 100, H / 100), dpi=100, facecolor="white")

bwr = LinearSegmentedColormap.from_list("bwr_wgcna", [
    (0.0, "#0A72F5"), (0.25, "#8CC6FF"), (0.40, "#CDE6FF"), (0.5, "#FFFFFF"), (0.61, "#FFC8BA"),
    (0.75, "#FF8A6E"), (1.0, "#FF2400")], N=50)


def axes_px(x0, y0, x1, y1, **kw):
    return fig.add_axes([x0 / W, 1 - y1 / H, (x1 - x0) / W, (y1 - y0) / H], **kw)


def text_px(x, y, s, **kw):
    kw.setdefault("ha", "center")
    kw.setdefault("va", "center")
    kw.setdefault("color", TEXT)
    return fig.text(x / W, 1 - y / H, s, **kw)


def only_left_spine(ax, lo, hi):
    for side in ["top", "right", "bottom"]:
        ax.spines[side].set_visible(False)
    ax.spines["left"].set_bounds(lo, hi)
    ax.spines["left"].set_color(LINE)
    ax.spines["left"].set_linewidth(1.1)
    ax.set_xticks([])
    ax.patch.set_alpha(0)


def box_style(ax):
    for s in ax.spines.values():
        s.set_color(LINE)
        s.set_linewidth(1.3)
    ax.tick_params(color=LINE, width=1.1, length=6, labelsize=9.5, labelcolor=TEXT)
    for lab in ax.get_yticklabels():
        lab.set_rotation(90)
        lab.set_va("center")


def spans(ax, runs, color):
    ax.broken_barh([(a, b - a) for a, b in runs], (0, 1), facecolors=color, edgecolors="none")


for letter, x, y in [("A", 25, 20), ("B", 822, 21), ("C", 26, 662), ("D", 822, 660), ("E", 25, 1273), ("F", 690, 1372)]:
    text_px(x, y, letter, fontsize=20, fontweight="bold", color="black")

# ---------- A ----------
ax = axes_px(133, 30, 667, 320)
ax.set_xlim(252, 1268)
ax.set_ylim((228 - 320) / 33.7, (228 - 30) / 33.7)
only_left_spine(ax, 0, 5)
ax.set_yticks([0, 1, 2, 3, 4, 5])
ax.set_yticklabels(["0e+00", "", "2e+06", "", "4e+06", ""], rotation=90, va="center", fontsize=8)
ax.tick_params(axis="y", color=LINE, length=6, width=1, pad=3, labelcolor=TEXT)
for x0, x1, h, h0, h1 in A_MERGES:
    ax.plot([x0, x0, x1, x1], [h0, h, h, h1], color="#333333", lw=0.9, solid_joinstyle="miter")
for i, (x, top, bot) in enumerate(zip(A_LEAF_X, A_LEAF_TOP, A_LEAF_BOT)):
    ax.plot([x, x], [bot, top], color="#707070", lw=2.2)
    if i % 2 == 0 and i + 1 < len(A_LEAF_X):
        ax.plot([x, A_LEAF_X[i + 1]], [top, top], color="#707070", lw=1.5)
for i, (x, bot) in enumerate(zip(A_LEAF_X, A_LEAF_BOT)):
    for k in range(3):
        ax.text(x + k * 2.7, bot - 0.08 * k, A_SAMPLE_IDS[(i + k) % len(A_SAMPLE_IDS)], rotation=90, ha="center",
                va="top", fontsize=7.2, color="black", clip_on=False)
for x, h, name in A_TALL_LABELS:
    ax.text(x, h, name, rotation=90, ha="center", va="top", fontsize=7.2, color="black")
text_px(409, 20, "Sample dendrogram and trait heatmap", fontsize=9, fontweight="bold")
text_px(88, 178, "Height", rotation=90, fontsize=8)

row_edges = [317.6, 352.9, 388, 423.6, 458.9, 494.4, 530, 565]
for i, trait in enumerate(A_TRAITS):
    ax = axes_px(153, row_edges[i], 667, row_edges[i + 1])
    ax.set_xlim(290, 1268)
    ax.set_ylim(0, 1)
    ax.set_xticks([])
    ax.set_yticks([])
    if trait == "pathologic_n":
        spans(ax, A_N_RUNS, "#FF0000")
    elif trait == "pathologic_m":
        spans(ax, A_M_RUNS, "#FF0000")
    elif trait == "pathologic_t":
        spans(ax, A_T_RUNS, "#FFB9A6")
        spans(ax, A_T_GAPS, "#FFFFFF")
        spans(ax, A_T_DARK, "#FF9078")
        spans(ax, A_T_RED, "#FF3A18")
        spans(ax, A_T_GREY, "#B0B0B0")
    elif trait == "bmi":
        ax.set_facecolor("#FEF0EB")
        spans(ax, A_BMI_BANDS, "#FDDDD3")
        spans(ax, A_BMI_GREY, "#ADADAD")
        spans(ax, A_BMI_DARK, "#D03020")
    elif trait == "gender":
        spans(ax, A_GENDER_RUNS, "#FF0000")
    elif trait == "status":
        ax.set_facecolor("#FF8A70")
        spans(ax, A_STATUS_GAPS, "#FFFFFF")
    else:
        ax.set_facecolor("#FF6A48")
        spans(ax, A_AGE_DARK, "#FF5430")
        spans(ax, A_AGE_LIGHT, "#FFA48E")
        spans(ax, A_AGE_WHITE, "#FFFFFF")
        spans(ax, A_AGE_GREY, "#B0B0B0")
    ax.spines["left"].set_visible(False)
    ax.spines["right"].set_visible(False)
    for side in ["top", "bottom"]:
        ax.spines[side].set_color("#555555")
        ax.spines[side].set_linewidth(1.1)
    text_px(141, (row_edges[i] + row_edges[i + 1]) / 2, trait, ha="right", fontsize=6.5)

# ---------- B ----------
ax = axes_px(937, 37, 1213, 530)
ax.set_xlim(0.25, 20.74)
ax.set_ylim(-0.292, 0.966)
ax.set_xticks([5, 10, 15, 20])
ax.set_yticks([-0.2, 0, 0.2, 0.4, 0.6, 0.8])
ax.set_yticklabels(["-0.2", "0.0", "0.2", "0.4", "0.6", "0.8"])
box_style(ax)
ax.tick_params(axis="x", pad=9)
ax.tick_params(axis="y", pad=7)
for p, v in zip(POWERS, SFT_R2):
    ax.text(p, v, str(p), color="#FF0000", fontsize=8, ha="center", va="center")
text_px(1074, 9, "Scale independence", fontsize=10, fontweight="bold")
text_px(1074, 581, "Soft Threshold (power)", fontsize=9)
text_px(886, 283, "Scale Free Topology Model Fit,signed R^2", rotation=90, fontsize=9)

ax = axes_px(1304, 37, 1580, 530)
ax.set_xlim(0.25, 20.74)
ax.set_ylim(-33, 871)
ax.set_xticks([5, 10, 15, 20])
ax.set_yticks([0, 200, 400, 600, 800])
box_style(ax)
ax.tick_params(axis="x", pad=9)
ax.tick_params(axis="y", pad=7)
for p, v in zip(POWERS, MEAN_K):
    ax.text(p, v, str(p), color="#FF0000", fontsize=8, ha="center", va="center")
text_px(1442, 9, "Mean connectivity", fontsize=10, fontweight="bold")
text_px(1442, 581, "Soft Threshold (power)", fontsize=9)
text_px(1253, 283, "Mean Connectivity", rotation=90, fontsize=9)

# ---------- C ----------
ax = axes_px(108.5, 680, 660, 900)
ax.set_xlim(-0.518, 13.41)
ax.set_ylim(-0.131, 1.007)
only_left_spine(ax, 0.2, 0.97)
ax.set_yticks([0.2, 0.3, 0.4, 0.5, 0.6, 0.7, 0.8, 0.9])
ax.set_yticklabels(["0.2", "", "0.4", "", "0.6", "", "0.8", ""], rotation=90, va="center", fontsize=8.5)
ax.tick_params(axis="y", color=LINE, length=6, width=1, pad=5, labelcolor=TEXT)
hang = 0.067
nodes = {i: (float(i), None) for i in range(len(ME_NAMES))}
for n, (a, b, h) in enumerate(C_MERGES):
    xa, ha = nodes[a]
    xb, hb = nodes[b]
    ha = h - hang if ha is None else ha
    hb = h - hang if hb is None else hb
    ax.plot([xa, xa, xb, xb], [ha, h, h, hb], color="#333333", lw=1.1, solid_joinstyle="miter")
    for child, end in [(a, ha), (b, hb)]:
        if child < len(ME_NAMES):
            ax.text(child, end - 0.045, ME_NAMES[child], rotation=90, ha="center", va="top", fontsize=7.5, color=TEXT)
    nodes[n + len(ME_NAMES)] = ((xa + xb) / 2, h)
text_px(386, 675, "Eigengene adjacency heatmap", fontsize=9.5, fontweight="bold")
text_px(407, 940, "Eigengene adjacency heatmap", fontsize=9.5, fontweight="bold")

ax = axes_px(121, 951, 626, 1155)
ax.imshow(np.array(ADJ), cmap=bwr, vmin=0, vmax=1, aspect="auto", interpolation="nearest")
ax.set_xticks([])
ax.set_yticks([])
for s in ax.spines.values():
    s.set_color("#777777")
    s.set_linewidth(1.2)

ax = axes_px(79, 951, 116, 1155)
ax.bar(np.zeros(14), np.ones(14), bottom=np.arange(14), width=1, color=ME_COLORS_C, align="center")
ax.set_ylim(14, 0)
ax.set_xlim(-0.5, 0.5)
ax.axis("off")

ax = axes_px(121, 1160, 626, 1190.6)
ax.bar(np.arange(14), np.ones(14), width=1, color=ME_COLORS_C)
ax.set_xlim(-0.5, 13.5)
ax.set_ylim(0, 1)
ax.axis("off")

ax = axes_px(638, 963, 654, 1142)
ax.imshow(np.linspace(1, 0, 50).reshape(-1, 1), cmap=bwr, vmin=0, vmax=1, aspect="auto", extent=[0, 1, 0, 1])
ax.set_xticks([])
ax.yaxis.tick_right()
ax.set_yticks([0, 0.2, 0.4, 0.6, 0.8, 1])
ax.set_yticklabels(["0", "0.2", "0.4", "0.6", "0.8", "1"], fontsize=8)
ax.tick_params(axis="y", length=7, width=1, color=LINE, pad=3, labelcolor=TEXT)
for s in ax.spines.values():
    s.set_color(LINE)
    s.set_linewidth(0.9)

# ---------- D ----------
ax = axes_px(951, 690, 1585.5, 1120)
ax.set_xlim(240, 1445)
ax.set_ylim(1 - (1120 - 696.6) / 530, 1 + (696.6 - 690) / 530)
only_left_spine(ax, 1 - (1120 - 696.6) / 530, 1.0)
ax.set_yticks([0.4, 0.6, 0.8, 1.0])
ax.set_yticklabels(["0.4", "0.6", "0.8", "1.0"], rotation=90, va="center", fontsize=8.5)
ax.tick_params(axis="y", color=LINE, length=6, width=1, pad=5, labelcolor=TEXT)
mass_x, mass_low, mass_top = [], [], []
for seg in D_MASS:
    xs, tops, lows = zip(*seg)
    ax.fill_between(xs, lows, tops, color="black", lw=0.3)
    mass_x += list(xs)
    mass_low += list(lows)
    mass_top += list(tops)
short_x, short_h = zip(*D_SHORT_TIPS)
guide_top = np.interp(D_GUIDE_X, short_x, short_h)
ax.vlines(D_GUIDE_X, 1 - (1120 - 696.6) / 530, guide_top - 0.015, color="#333333", lw=0.75, linestyles=(0, (1.5, 2.6)))
ax.vlines(short_x, short_h, np.interp(short_x, mass_x, mass_top), color="#2a2a2a", lw=0.8)
tip_top = np.interp(D_TIP_X, mass_x, mass_top)
ax.vlines(D_TIP_X, D_TIP_H, tip_top, color="#111111", lw=0.9)
for xs, hs in D_CURVES:
    ax.plot(xs, hs, color="black", lw=1.3)
for x0, x1, h in D_CROSS:
    ax.plot([x0, x1], [h, h], color="#333333", lw=0.9)
ax.plot([287, 1445], [1.0, 1.0], color="#222222", lw=1.8, solid_capstyle="butt")
text_px(1281, 660, "Cluster Dendrogram", fontsize=10.5, fontweight="bold")
text_px(900, 900, "Height", rotation=90, fontsize=8.5)

ax = axes_px(976, 1120, 1585.5, 1226)
ax.set_xlim(287, 1445)
ax.set_ylim(0, 1)
ax.set_xticks([])
ax.set_yticks([])
for x0, x1, col in D_MODULES:
    ax.broken_barh([(x0, x1 - x0)], (0, 1), facecolors=col, edgecolors="none")
for x, col in D_THIN_LINES:
    ax.broken_barh([(x, 1.3)], (0, 1), facecolors=col, edgecolors="none")
ax.spines["left"].set_visible(False)
ax.spines["right"].set_visible(False)
for side in ["top", "bottom"]:
    ax.spines[side].set_color("#666666")
    ax.spines[side].set_linewidth(1.2)
text_px(962, 1173, "Module colors", ha="right", fontsize=6.5)

# ---------- E ----------
E_TRAITS = A_TRAITS
cor = np.array([[float(v) for v in row] for row in E_COR])
ax = axes_px(165, 1292, 551, 1987)
ax.imshow(cor, cmap=bwr, vmin=-1, vmax=1, aspect="auto", interpolation="nearest")
for i in range(len(E_COR)):
    for j in range(len(E_COR[0])):
        ax.text(j, i, f"{E_COR[i][j]}\n({E_P[i][j]})", ha="center", va="center", fontsize=8.5, linespacing=1.08,
                family="DejaVu Sans", color=TEXT)
ax.set_xticks([])
ax.set_yticks([])
for s in ax.spines.values():
    s.set_color("#777777")
    s.set_linewidth(1.3)

ax = axes_px(152, 1292, 161, 1987)
ax.bar(np.zeros(15), np.ones(15), bottom=np.arange(15), width=1, color=E_COLORS, align="center")
ax.set_ylim(15, 0)
ax.set_xlim(-0.5, 0.5)
ax.axis("off")

row_h = (1987 - 1292) / 15
for i, name in enumerate(E_MODULES):
    text_px(147.5, 1292 + (i + 0.47) * row_h, name, ha="right", fontsize=7.2, family="DejaVu Sans", color="#333333")
col_w = (551 - 165) / 7
for j, name in enumerate(E_TRAITS):
    text_px(165 + (j + 0.5) * col_w + 3, 2016, name, ha="right", va="center", rotation=37, rotation_mode="anchor",
            fontsize=8, family="DejaVu Sans", color="#333333")
text_px(382, 1255, "Module-trait relationships", fontsize=14, fontweight="bold", family="DejaVu Sans", color="black")

ax = axes_px(560, 1334, 573, 1946)
ax.imshow(np.linspace(1, -1, 50).reshape(-1, 1), cmap=bwr, vmin=-1, vmax=1, aspect="auto", extent=[0, 1, -1, 1])
ax.set_xticks([])
ax.yaxis.tick_right()
ax.set_yticks([-1, -0.5, 0, 0.5, 1])
ax.set_yticklabels(["-1", "-0.5", "0", "0.5", "1"], fontsize=12)
ax.tick_params(axis="y", length=8, width=1.1, color=LINE, pad=2, labelcolor=TEXT)
for s in ax.spines.values():
    s.set_color("#666666")
    s.set_linewidth(1.0)

# ---------- F ----------
ax = axes_px(794.5, 1405.7, 1648, 1910)
ax.scatter(module_membership, gene_significance, s=21, facecolors="none", edgecolors="#22DFC6", linewidths=0.95)
ax.set_xlim(0.187, 0.956)
ax.set_ylim(-0.0102, 0.2763)
ax.set_xticks([0.2, 0.3, 0.4, 0.5, 0.6, 0.7, 0.8, 0.9])
ax.set_yticks([0, 0.05, 0.10, 0.15, 0.20, 0.25])
ax.set_yticklabels(["0.00", "0.05", "0.10", "0.15", "0.20", "0.25"])
box_style(ax)
ax.tick_params(labelsize=10.5)
ax.tick_params(axis="x", pad=10)
ax.tick_params(axis="y", pad=7)
text_px(1220.6, 1364, "Module membership vs. gene significance", fontsize=11, fontweight="bold")
text_px(1220.6, 1383, "cor=0.62, p<1e\u2212200", fontsize=11, fontweight="bold")
text_px(1220.6, 1967, "Module Membership in turquoise module", fontsize=11)
text_px(738, 1658, "Gene significance for LIHC", rotation=90, fontsize=11)

fig.savefig("out.png", dpi=100)
